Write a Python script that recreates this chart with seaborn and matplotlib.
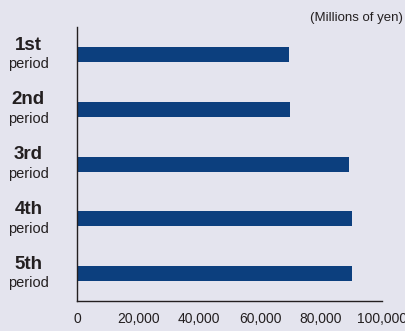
import matplotlib
matplotlib.use("Agg")
import matplotlib.pyplot as plt
import seaborn as sns
import pandas as pd

ordinals = ["1st", "2nd", "3rd", "4th", "5th"]
sublabel = "period"
values = [69600, 69900, 89300, 90000, 90300]
xticks = [0, 20000, 40000, 60000, 80000, 100000]
xticklabels = ["0", "20,000", "40,000", "60,000", "80,000", "100,000"]
unit_label = "(Millions of yen)"

sns.set_theme(style="white")
plt.rcParams["font.family"] = ["Liberation Sans", "DejaVu Sans"]

bg = "#e4e4ee"
bar_color = "#0c3f7e"
ink = "#231f20"

df = pd.DataFrame({"period": ordinals, "value": values})

fig = plt.figure(figsize=(4.06, 3.31), dpi=100, facecolor=bg)
ax = fig.add_axes([0.19, 0.091, 0.751, 0.827])
ax.set_facecolor(bg)

sns.barplot(data=df, x="value", y="period", orient="h", color=bar_color,
            width=0.274, saturation=1, linewidth=0, ax=ax)

ax.set_xlim(0, 100000)
ax.set_ylim(4.5, -0.5)
ax.set_xticks(xticks)
ax.set_xticklabels(xticklabels, fontsize=10, color=ink)
ax.tick_params(axis="x", direction="in", length=5, width=0.9, color=ink, pad=8)
ax.tick_params(axis="y", length=0)
ax.set_yticks(range(len(ordinals)))
ax.set_yticklabels([""] * len(ordinals))
ax.set_xlabel("")
ax.set_ylabel("")
for s in ["top", "right"]:
    ax.spines[s].set_visible(False)
for s in ["left", "bottom"]:
    ax.spines[s].set_color(ink)
    ax.spines[s].set_linewidth(1.0)

trans = ax.get_yaxis_transform()
for i, o in enumerate(ordinals):
    ax.text(-0.16, i - 0.17, o, transform=trans, ha="center", va="center",
            fontsize=13.5, fontweight="bold", color=ink, clip_on=False)
    ax.text(-0.16, i + 0.18, sublabel, transform=trans, ha="center", va="center",
            fontsize=10.5, color=ink, clip_on=False)

fig.text(0.992, 0.945, unit_label, ha="right", va="center", fontsize=9.5, color=ink)

fig.savefig("out.png", dpi=100, facecolor=bg)
